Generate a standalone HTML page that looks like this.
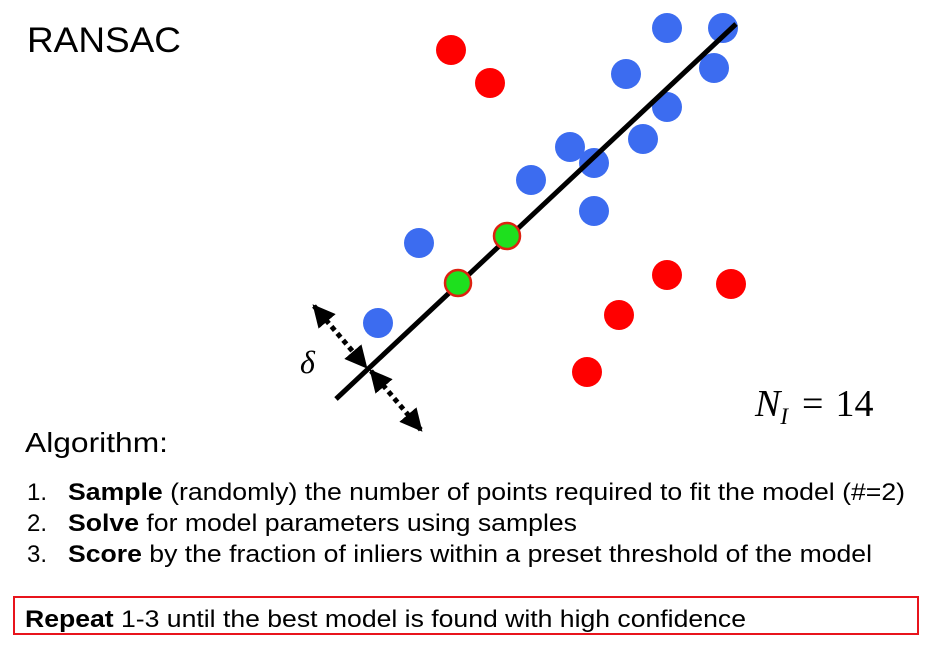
<!DOCTYPE html>
<html><head><meta charset="utf-8"><style>
html,body{margin:0;padding:0;background:#fff;width:947px;height:649px;overflow:hidden}
svg{display:block}
.s{font-family:"Liberation Sans",sans-serif;fill:#000}
</style></head><body>
<svg id="chart" width="947" height="649">
<defs>
<marker id="ah" viewBox="0 0 10 10" refX="9" refY="5" markerWidth="4.5" markerHeight="4.5" orient="auto-start-reverse"><path d="M0,0 L10,5 L0,10 z" fill="#000"/></marker>
</defs>
<text class="s" x="27" y="52" font-size="35" textLength="154" lengthAdjust="spacingAndGlyphs">RANSAC</text>
<g id="marks"></g>
<text x="300" y="373" font-family="Liberation Serif,serif" font-style="italic" font-size="32">δ</text>
<text x="755" y="416" font-family="Liberation Serif,serif" font-size="38"><tspan font-style="italic">N</tspan><tspan font-style="italic" font-size="23" dy="8">I</tspan><tspan dy="-8" dx="14">=</tspan><tspan dx="12">14</tspan></text>
<text class="s" x="25" y="452" font-size="28" textLength="143" lengthAdjust="spacingAndGlyphs">Algorithm:</text>
<text class="s" y="500" font-size="24"><tspan x="27">1.</tspan><tspan x="68" textLength="837" lengthAdjust="spacingAndGlyphs"><tspan font-weight="bold">Sample</tspan> (randomly) the number of points required to fit the model (#=2)</tspan></text>
<text class="s" y="531" font-size="24"><tspan x="27">2.</tspan><tspan x="68" textLength="509" lengthAdjust="spacingAndGlyphs"><tspan font-weight="bold">Solve</tspan> for model parameters using samples</tspan></text>
<text class="s" y="562" font-size="24"><tspan x="27">3.</tspan><tspan x="68" textLength="804" lengthAdjust="spacingAndGlyphs"><tspan font-weight="bold">Score</tspan> by the fraction of inliers within a preset threshold of the model</tspan></text>
<rect x="14" y="597" width="904" height="37" fill="none" stroke="#e8141c" stroke-width="2"/>
<text class="s" x="25" y="627" font-size="24" textLength="721" lengthAdjust="spacingAndGlyphs"><tspan font-weight="bold">Repeat</tspan> 1-3 until the best model is found with high confidence</text>
</svg>
<script>
const inlierX=[667,723,714,626,667,643,570,594,531,594,419,378];
const inlierY=[28,28,68,74,107,139,147,163,180,211,243,323];
const outlierX=[451,490,667,731,619,587];
const outlierY=[50,83,275,284,315,372];
const sampleX=[507,458];
const sampleY=[236,283];
const lineX=[336,736];
const lineY=[399,24];
const NS="http://www.w3.org/2000/svg";
const g=document.getElementById('marks');
function mk(t,a){const e=document.createElementNS(NS,t);for(const k in a)e.setAttribute(k,a[k]);g.appendChild(e);return e;}
inlierX.forEach((x,i)=>{const c=mk('circle',{cx:x,cy:inlierY[i],r:15,fill:'#3c6cf0'});

});
outlierX.forEach((x,i)=>{const c=mk('circle',{cx:x,cy:outlierY[i],r:15,fill:'#f00'});

});
const ln=mk('line',{x1:lineX[0],y1:lineY[0],x2:lineX[1],y2:lineY[1],stroke:'#000','stroke-width':5});


sampleX.forEach((x,i)=>{const c=mk('circle',{cx:x,cy:sampleY[i],r:13,fill:'#1ee01e',stroke:'#d21',"stroke-width":2.5});

});
const a1=mk('line',{x1:314,y1:306,x2:366,y2:367,stroke:'#000','stroke-width':5,'stroke-dasharray':'5 4','marker-start':'url(#ah)','marker-end':'url(#ah)'});


const a2=mk('line',{x1:371,y1:371,x2:421,y2:430,stroke:'#000','stroke-width':5,'stroke-dasharray':'5 4','marker-start':'url(#ah)','marker-end':'url(#ah)'});


</script>
</body></html>
